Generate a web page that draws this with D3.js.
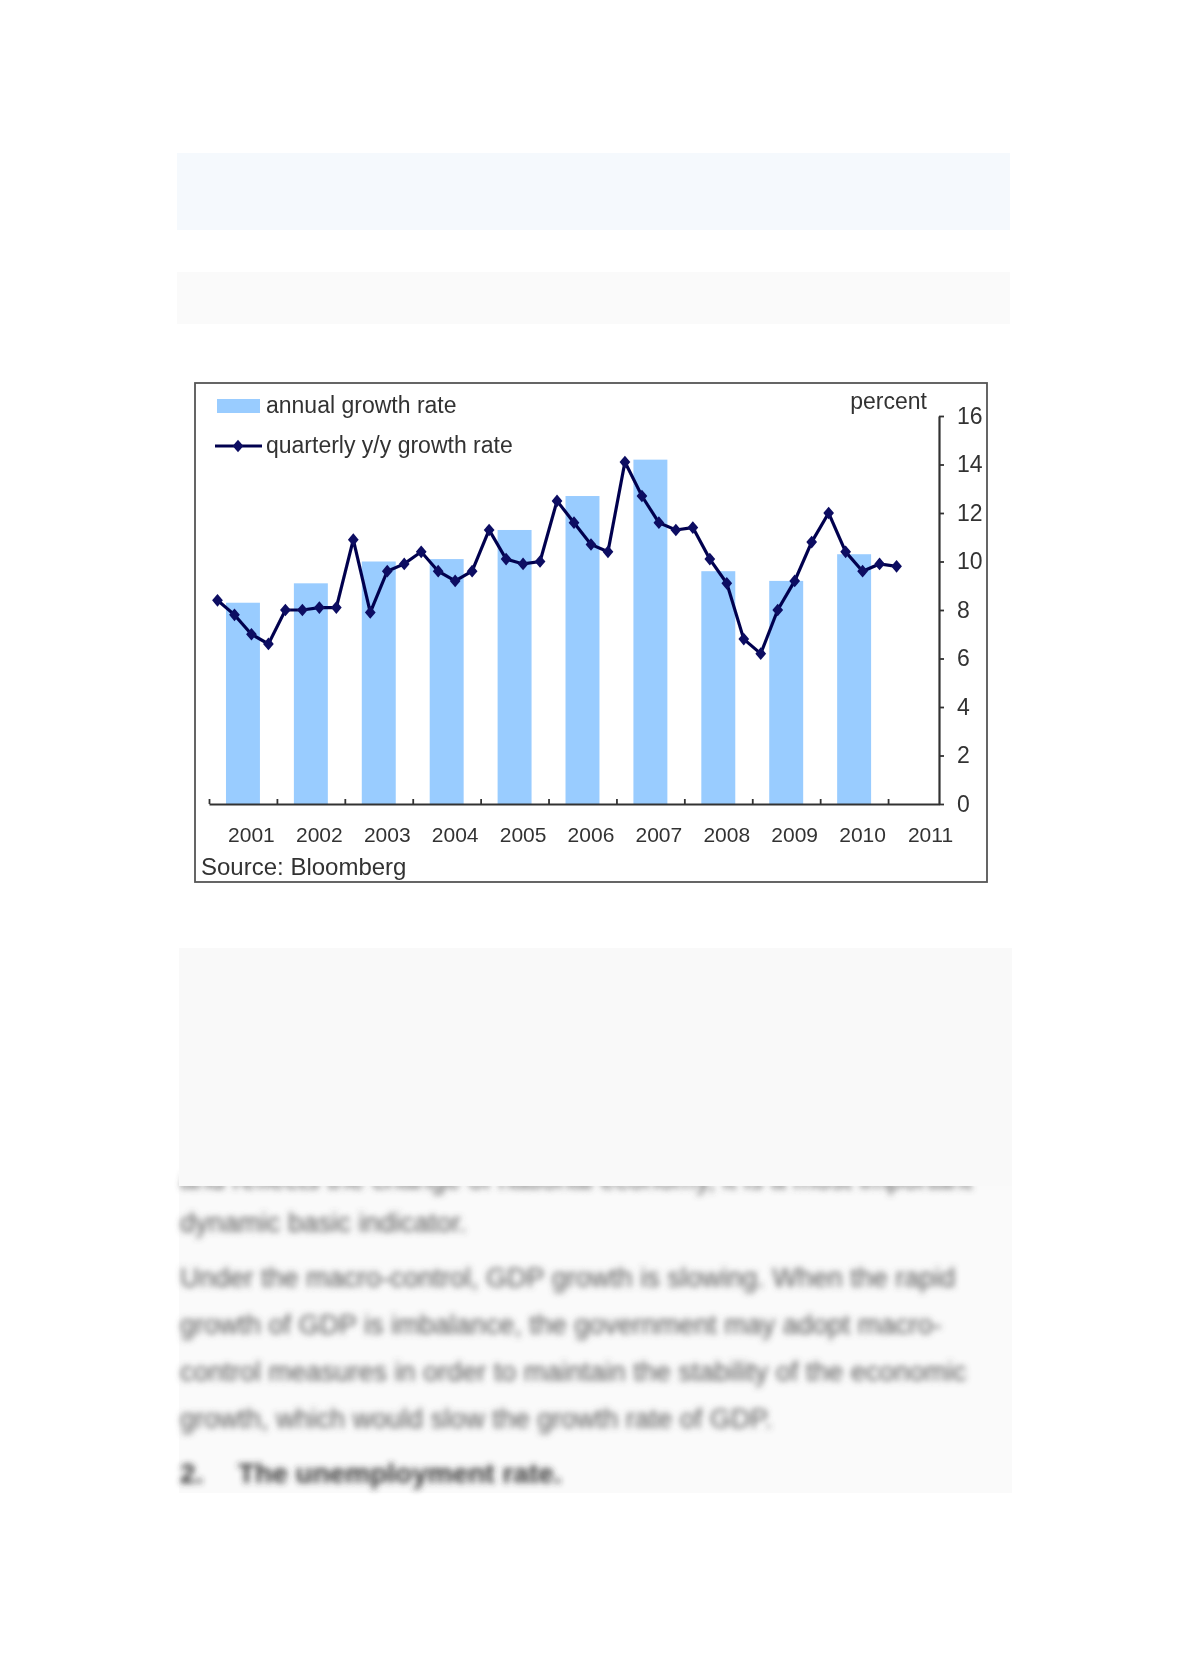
<!DOCTYPE html>
<html>
<head>
  <meta charset="utf-8" />
  <title>GDP growth</title>
  <script src="https://d3js.org/d3.v7.min.js"></script>
  <style>
    body { margin: 0; background: #ffffff; }
    svg text { font-family: 'Liberation Sans', Arial, sans-serif; }
  </style>
</head>
<body>
<svg id="page" width="1180" height="1669"></svg>
<script>
  // data
  var years = ["2001", "2002", "2003", "2004", "2005", "2006", "2007", "2008", "2009", "2010", "2011"];
  var annualRate = [8.3, 9.1, 10.0, 10.1, 11.3, 12.7, 14.2, 9.6, 9.2, 10.3];
  var quarterlyRate = [
    8.4, 7.8, 7.0, 6.6,
    8.0, 8.0, 8.1, 8.1,
    10.9, 7.9, 9.6, 9.9,
    10.4, 9.6, 9.2, 9.6,
    11.3, 10.1, 9.9, 10.0,
    12.5, 11.6, 10.7, 10.4,
    14.1, 12.7, 11.6, 11.3,
    11.4, 10.1, 9.1, 6.8,
    6.2, 8.0, 9.2, 10.8,
    12.0, 10.4, 9.6, 9.9,
    9.8
  ];
  var yTicks = [0, 2, 4, 6, 8, 10, 12, 14, 16];

  // text of the page around the chart
  var bodyLines = [
    "and reflects the change of national economy, it is a most important",
    "dynamic basic indicator.",
    "Under the macro-control, GDP growth is slowing. When the rapid",
    "growth of GDP is imbalance, the government may adopt macro-",
    "control measures in order to maintain the stability of the economic",
    "growth, which would slow the growth rate of GDP."
  ];

  var svg = d3.select("#page");

  var defs = svg.append("defs");
  // blur for the text of the page
  defs.append("filter")
    .attr("id", "blur")
    .attr("x", "-5%").attr("y", "-50%")
    .attr("width", "110%").attr("height", "200%")
    .append("feGaussianBlur")
    .attr("stdDeviation", 3);
  // the chart itself is a slightly soft picture
  defs.append("filter")
    .attr("id", "soft")
    .append("feGaussianBlur")
    .attr("stdDeviation", 0.5);

  // page blocks above the chart
  svg.append("rect").attr("x", 177).attr("y", 153).attr("width", 833).attr("height", 77)
    .attr("fill", "#f5f9fd");
  svg.append("rect").attr("x", 177).attr("y", 272).attr("width", 833).attr("height", 52)
    .attr("fill", "#fafafa");

  // block below the chart with blurred text
  svg.append("rect").attr("x", 179).attr("y", 948).attr("width", 833).attr("height", 545)
    .attr("fill", "#fafafa");

  var txt = svg.append("g").attr("filter", "url(#blur)")
    .attr("fill", "#555555")
    .style("font-size", "27px");

  var lineY = [1189, 1232, 1287, 1334, 1381, 1428];
  txt.selectAll("text.body")
    .data(bodyLines)
    .enter().append("text")
    .attr("class", "body")
    .attr("x", 180)
    .attr("y", function(d, i) { return lineY[i]; })
    .text(function(d) { return d; });

  txt.append("text").attr("x", 180).attr("y", 1483)
    .attr("fill", "#333333").style("font-weight", "bold").style("font-size", "28px").text("2.");
  txt.append("text").attr("x", 238).attr("y", 1483)
    .attr("fill", "#333333").style("font-weight", "bold").style("font-size", "28px")
    .text("The unemployment rate.");

  // empty block covering the first text line
  svg.append("rect").attr("x", 179).attr("y", 948).attr("width", 833).attr("height", 238)
    .attr("fill", "#f9f9f9");

  var chart = svg.append("g").attr("filter", "url(#soft)");

  // chart frame
  chart.append("rect")
    .attr("x", 195).attr("y", 383)
    .attr("width", 792).attr("height", 499)
    .attr("fill", "#ffffff")
    .attr("stroke", "#555555")
    .attr("stroke-width", 1.8);

  // scales
  var x = d3.scaleLinear().domain([0, 43]).range([209, 939]);
  var y = d3.scaleLinear().domain([0, 16]).range([804, 416]);

  // bars: middle two quarters of every year
  chart.append("g").selectAll("rect")
    .data(annualRate)
    .enter().append("rect")
    .attr("x", function(d, i) { return x(i * 4 + 1); })
    .attr("width", function(d, i) { return x(i * 4 + 3) - x(i * 4 + 1); })
    .attr("y", function(d) { return y(d); })
    .attr("height", function(d) { return y(0) - y(d); })
    .attr("fill", "#99ccff");

  // x axis
  var xAxis = chart.append("g")
    .attr("transform", "translate(0," + y(0) + ")")
    .call(d3.axisBottom(x)
      .tickValues(d3.range(0, 44, 4))
      .tickSizeInner(-5)
      .tickSizeOuter(0)
      .tickFormat(""));
  xAxis.select(".domain").attr("stroke", "#333333").attr("stroke-width", 2.2);
  xAxis.selectAll(".tick line").attr("stroke", "#333333").attr("stroke-width", 1.8);

  chart.append("g").selectAll("text")
    .data(years)
    .enter().append("text")
    .attr("x", function(d, i) { return x(i * 4 + 2.5); })
    .attr("y", 842)
    .attr("text-anchor", "middle")
    .attr("fill", "#333333")
    .style("font-size", "21px")
    .text(function(d) { return d; });

  // right y axis
  var yAxis = chart.append("g")
    .attr("transform", "translate(" + x(43) + ",0)")
    .call(d3.axisRight(y)
      .tickValues(yTicks)
      .tickSizeInner(5)
      .tickSizeOuter(0)
      .tickPadding(13));
  yAxis.select(".domain").attr("stroke", "#333333").attr("stroke-width", 2.2);
  yAxis.selectAll(".tick line").attr("stroke", "#333333").attr("stroke-width", 1.8);
  yAxis.selectAll(".tick text")
    .attr("fill", "#333333")
    .style("font-size", "23px")
    .style("font-family", "'Liberation Sans', Arial, sans-serif");

  // quarterly line
  var line = d3.line()
    .x(function(d, i) { return x(i + 0.5); })
    .y(function(d) { return y(d); });

  chart.append("path")
    .datum(quarterlyRate)
    .attr("d", line)
    .attr("fill", "none")
    .attr("stroke", "#06064f")
    .attr("stroke-width", 3.2);

  // diamond marker, a little taller than wide
  var diamondShape = {
    draw: function(context, size) {
      var w = Math.sqrt(size) * 0.55, h = Math.sqrt(size) * 0.65;
      context.moveTo(0, -h);
      context.lineTo(w, 0);
      context.lineTo(0, h);
      context.lineTo(-w, 0);
      context.closePath();
    }
  };
  var diamond = d3.symbol().type(diamondShape).size(95);

  chart.append("g").selectAll("path")
    .data(quarterlyRate)
    .enter().append("path")
    .attr("d", diamond)
    .attr("transform", function(d, i) { return "translate(" + x(i + 0.5) + "," + y(d) + ")"; })
    .attr("fill", "#0b0b62");

  // legend
  chart.append("rect").attr("x", 217).attr("y", 399).attr("width", 43).attr("height", 14)
    .attr("fill", "#99ccff");
  chart.append("text").attr("x", 266).attr("y", 413)
    .attr("fill", "#333333").style("font-size", "23px").text("annual growth rate");

  chart.append("line").attr("x1", 215).attr("x2", 262).attr("y1", 446).attr("y2", 446)
    .attr("stroke", "#06064f").attr("stroke-width", 3.2);
  chart.append("path").attr("d", diamond)
    .attr("transform", "translate(238,446)")
    .attr("fill", "#0b0b62");
  chart.append("text").attr("x", 266).attr("y", 453)
    .attr("fill", "#333333").style("font-size", "23px").text("quarterly y/y growth rate");

  chart.append("text").attr("x", 927).attr("y", 409)
    .attr("text-anchor", "end")
    .attr("fill", "#333333").style("font-size", "23px").text("percent");

  chart.append("text").attr("x", 201).attr("y", 875)
    .attr("fill", "#333333").style("font-size", "24px").text("Source: Bloomberg");
</script>
</body>
</html>
